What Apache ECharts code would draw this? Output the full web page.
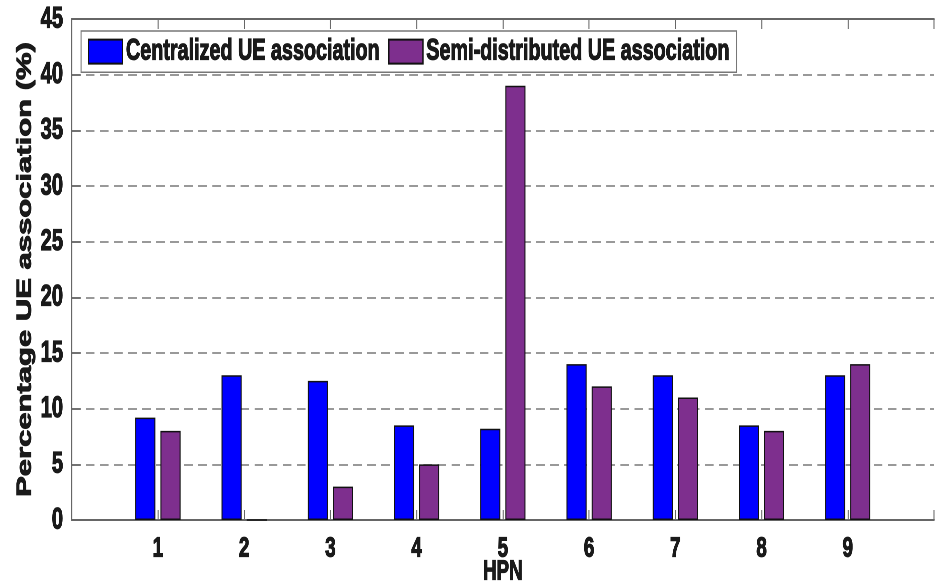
<!DOCTYPE html>
<html>
<head>
<meta charset="utf-8">
<script src="https://cdn.jsdelivr.net/npm/echarts@6/dist/echarts.min.js"></script>
<style>
  html, body { margin: 0; padding: 0; background: #fff; overflow: hidden; }
  /* the figure is horizontally squeezed, so draw wide and squeeze it */
  #chart { width: 1403px; height: 584px; transform: scaleX(0.67); transform-origin: 0 0; }
</style>
</head>
<body>
<div id="chart"></div>
<script>
var hpn = ['1', '2', '3', '4', '5', '6', '7', '8', '9'];
var centralized = [9.2, 13, 12.5, 8.5, 8.2, 14, 13, 8.5, 13];
var semiDistributed = [8, 0, 3, 5, 39, 12, 11, 8, 14];
var yMin = 0, yMax = 45, yStep = 5;

var font = 'Liberation Sans, Arial, sans-serif';
var axisGray = '#666';
var ink = '#1a1a1a';

// heavy text: bold plus a thin outline in the same colour
function heavy(size, extra) {
	var s = { fontFamily: font, fontWeight: 'bold', fontSize: size, color: ink, textBorderColor: ink, textBorderWidth: 1.2 };
	for (var k in extra) s[k] = extra[k];
	return s;
}

// x limits are [0, 10] like the original, so pad the category list at both ends
var xCats = ['0'].concat(hpn, ['10']);
function pad(arr) { return ['-'].concat(arr, ['-']); }

var myChart = echarts.init(document.getElementById('chart'), null, { devicePixelRatio: 2 });

var option = {
	animation: false,
	backgroundColor: '#fff',
	grid: { left: 107, right: 9, top: 19, bottom: 64, containLabel: false, outerBoundsMode: 'none' },
	legend: {
		left: 121,
		top: 31,
		padding: [5, 10, 5, 10],
		itemGap: 12,
		itemWidth: 51,
		itemHeight: 24,
		icon: 'rect',
		borderColor: '#777',
		borderWidth: 1.5,
		backgroundColor: '#fff',
		textStyle: heavy(29.5),
		data: ['Centralized UE association', 'Semi-distributed UE association']
	},
	xAxis: [{
		type: 'category',
		data: xCats,
		boundaryGap: false,
		name: 'HPN',
		nameLocation: 'middle',
		nameGap: 38,
		nameMoveOverlap: false,
		nameTextStyle: heavy(28),
		axisLine: { lineStyle: { color: axisGray, width: 2 } },
		axisTick: { inside: true, length: 10, lineStyle: { color: axisGray, width: 1.5 } },
		axisLabel: heavy(28, {
			margin: 15,
			formatter: function (v, i) { return (i === 0 || i === xCats.length - 1) ? '' : v; }
		}),
		splitLine: { show: false }
	}, {
		type: 'category',
		data: xCats,
		boundaryGap: false,
		position: 'top',
		axisLine: { lineStyle: { color: axisGray, width: 2 } },
		axisTick: { inside: true, length: 10, lineStyle: { color: axisGray, width: 1.5 } },
		axisLabel: { show: false },
		splitLine: { show: false }
	}],
	yAxis: {
		type: 'value',
		min: yMin,
		max: yMax,
		interval: yStep,
		name: 'Percentage UE association (%)',
		nameLocation: 'middle',
		nameGap: 54,
		nameMoveOverlap: false,
		nameTextStyle: heavy(31),
		axisLine: { show: true, lineStyle: { color: axisGray, width: 2 } },
		axisTick: { show: true, inside: true, length: 14, lineStyle: { color: axisGray, width: 1.5 } },
		axisLabel: heavy(30, { margin: 13 }),
		splitLine: { show: true, lineStyle: { color: '#999', width: 2, type: [13, 8] } }
	},
	series: [{
		name: 'Centralized UE association',
		type: 'bar',
		data: pad(centralized),
		barWidth: 30,
		barGap: '25%',
		itemStyle: { color: '#0000ff', borderColor: '#111', borderWidth: 1.5 }
	}, {
		name: 'Semi-distributed UE association',
		type: 'bar',
		data: pad(semiDistributed),
		barWidth: 30,
		barGap: '25%',
		itemStyle: { color: '#7e2f8e', borderColor: '#111', borderWidth: 1.5 }
	}]
};

myChart.setOption(option);
</script>
</body>
</html>
